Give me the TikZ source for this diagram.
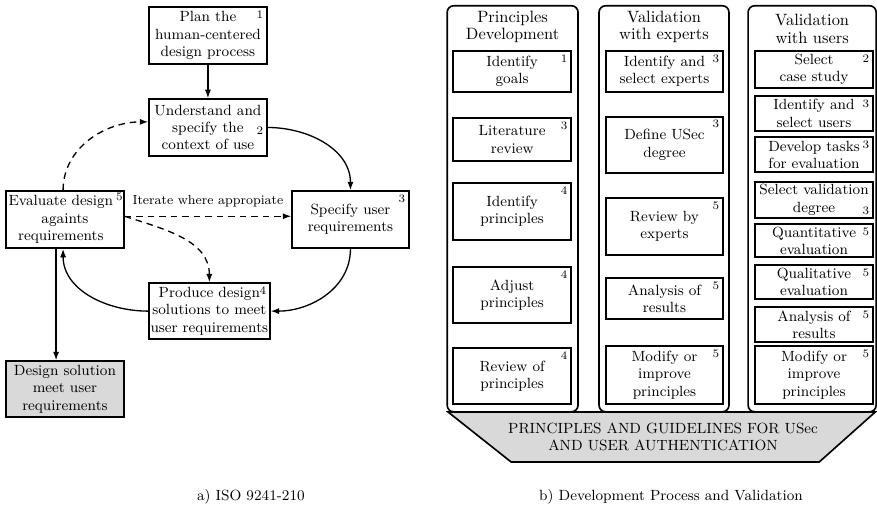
\documentclass[tikz,border=0pt]{standalone}
\usepackage{tikz}
\usetikzlibrary{arrows.meta,positioning}

\begin{document}
\begin{tikzpicture}[
    x=1cm,y=1cm,
    isobox/.style={draw,line width=1pt,fill=white,align=center,
      font={\fontsize{9}{10.5}\selectfont},inner sep=1pt,
      minimum width=2.52cm,minimum height=1.22cm},
    stagebox/.style={draw,line width=1pt,rounded corners=4pt,fill=white,
      minimum height=8.69cm},
    stagetitle/.style={align=center,font={\fontsize{10}{10.5}\selectfont},
      inner sep=0pt},
    taskbox/.style={draw,line width=1pt,fill=white,align=center,
      font={\fontsize{9}{10.5}\selectfont},inner xsep=0.5pt,inner ysep=0.5pt,
      minimum width=2.52cm},
    stepno/.style={label={[font=\scriptsize,inner sep=2.5pt,anchor=north east]north east:#1}},
    flow/.style={-{Latex[length=1.8mm,width=1.3mm]},thick},
    iterate/.style={flow,dashed,dash pattern=on 4pt off 3pt},
    caption/.style={font=\small}
  ]
  \useasboundingbox (0,0) rectangle (18.768,10.828);

  % a) ISO 9241-210
  \node[isobox,stepno=1] (plan) at (4.45,10.07)
    {Plan the\\human-centered\\design process};
  \node[isobox,label={[font=\scriptsize,inner sep=2.5pt,anchor=east,yshift=-2pt]east:2}]
    (context) at (4.45,8.10) {Understand and\\specify the\\context of use};
  \node[isobox,
    label={[font=\scriptsize,inner xsep=1pt,inner ysep=1.5pt,anchor=north east]north east:5}]
    (evaluate) at (1.39,6.13)
    {Evaluate design\hspace*{5pt}\\againts\hspace*{5pt}\\requirements\hspace*{5pt}};
  \node[isobox,stepno=3,minimum width=2.50cm] (specify) at (7.50,6.13)
    {Specify user\\requirements};
  \node[isobox,stepno=4,minimum width=2.59cm,minimum height=1.20cm]
    (produce) at (4.48,4.17) {Produce design\\solutions to meet\\user requirements};
  \node[isobox,fill=gray!30,minimum height=1.20cm] (result) at (1.39,2.50)
    {Design solution\\meet user\\requirements};

  \draw[flow] (plan) -- (context);
  \draw[flow] (context.east) to[out=0,in=90] (specify.north);
  \draw[flow] (specify.south) to[out=-90,in=0] (produce.east);
  \draw[flow] (produce.west) to[out=180,in=-90] ([xshift=-0.04cm]evaluate.south);
  \draw[iterate] ([xshift=-0.04cm]evaluate.north) to[out=90,in=180]
    ([yshift=0.12cm]context.west);
  \draw[iterate] ([yshift=0.07cm]evaluate.east) --
    node[above=2pt,font={\fontsize{8}{9.5}\selectfont}] {Iterate where appropiate}
    ([yshift=0.07cm]specify.west);
  \draw[iterate] ([yshift=0.07cm]evaluate.east) to[out=-18,in=90] (produce.north);
  \draw[flow] ([xshift=-0.19cm]evaluate.south) -- ([xshift=-0.19cm]result.north);

  \node[caption] (capa) at (5.37,0.19) {a) ISO 9241-210};

  % b) Development Process and Validation
  \draw[line width=1pt,fill=gray!30] (9.59,2.01) -- (18.73,2.01) --
    (17.53,0.94) -- (10.94,0.94) -- cycle;
  \node[font={\fontsize{9}{10.5}\selectfont},align=center] (base) at (14.19,1.48)
    {PRINCIPLES AND GUIDELINES FOR USec\\AND USER AUTHENTICATION};

  \node[stagebox,minimum width=2.80cm] (dev) at (10.97,6.36) {};
  \node[stagebox,minimum width=2.78cm] (experts) at (14.21,6.36) {};
  \node[stagebox,minimum width=2.74cm] (users) at (17.38,6.36) {};

  \node[stagetitle] (devtitle) at (10.97,10.25) {Principles\\Development};
  \node[stagetitle] (exptitle) at (14.21,10.25) {Validation\\with experts};
  \node[stagetitle] (usrtitle) at (17.38,10.21) {Validation\\with users};

  \node[taskbox,stepno=1,minimum height=0.88cm] (d1) at (10.96,9.30) {Identify\\goals};
  \node[taskbox,stepno=3,minimum height=0.92cm] (d2) at (10.96,7.84) {Literature\\review};
  \node[taskbox,stepno=4,minimum height=1.22cm] (d3) at (10.96,6.30) {Identify\\principles};
  \node[taskbox,stepno=4,minimum height=1.20cm] (d4) at (10.96,4.52) {Adjust\\principles};
  \node[taskbox,stepno=4,minimum height=1.20cm] (d5) at (10.96,2.78) {Review of\\principles};

  \node[taskbox,stepno=3,minimum width=2.50cm,minimum height=0.88cm] (e1) at (14.22,9.30)
    {Identify and\\select experts};
  \node[taskbox,stepno=3,minimum width=2.50cm,minimum height=1.20cm] (e2) at (14.22,7.73)
    {Define USec\\degree};
  \node[taskbox,stepno=5,minimum width=2.50cm,minimum height=1.22cm] (e3) at (14.22,5.98)
    {Review by\\experts};
  \node[taskbox,stepno=5,minimum width=2.50cm,minimum height=0.88cm] (e4) at (14.22,4.44)
    {Analysis of\\results};
  \node[taskbox,stepno=5,minimum width=2.50cm,minimum height=1.24cm] (e5) at (14.22,2.80)
    {Modify or\\improve\\principles};

  \node[taskbox,stepno=2,minimum height=0.79cm] (u1) at (17.42,9.34) {Select\\case study};
  \node[taskbox,stepno=3,minimum height=0.75cm] (u2) at (17.42,8.40) {Identify and\\select users};
  \node[taskbox,stepno=3,minimum height=0.75cm] (u3) at (17.42,7.52) {Develop tasks\\for evaluation};
  \node[taskbox,minimum height=0.77cm,
    label={[font=\scriptsize,inner sep=2.5pt,anchor=south east]south east:3}]
    (u4) at (17.42,6.55) {Select validation\\degree};
  \node[taskbox,stepno=5,minimum height=0.71cm] (u5) at (17.42,5.68) {Quantitative\\evaluation};
  \node[taskbox,stepno=5,minimum height=0.73cm] (u6) at (17.42,4.79) {Qualitative\\evaluation};
  \node[taskbox,stepno=5,minimum height=0.75cm] (u7) at (17.42,3.88) {Analysis of\\results};
  \node[taskbox,stepno=5,minimum height=1.24cm] (u8) at (17.42,2.80)
    {Modify or\\improve\\principles};

  \node[caption] (capb) at (14.36,0.19) {b) Development Process and Validation};
\end{tikzpicture}
\end{document}
